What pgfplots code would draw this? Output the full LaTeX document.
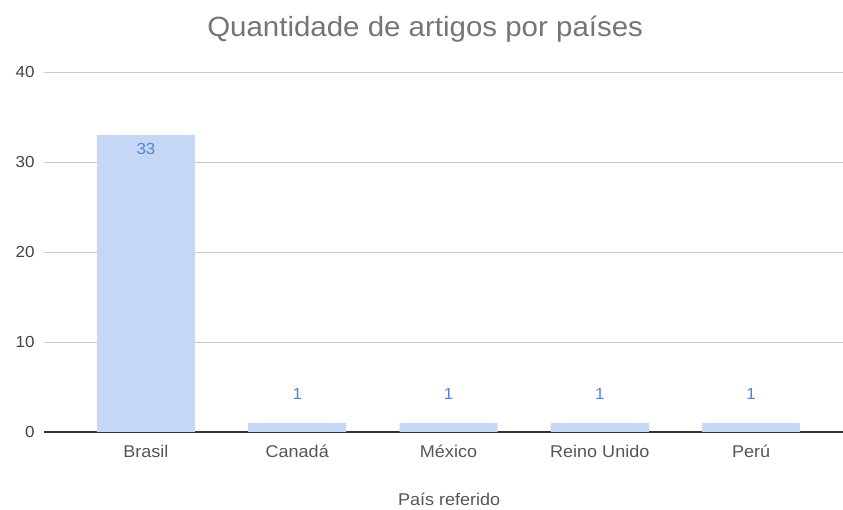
\documentclass[border=0pt]{standalone}
\usepackage{pgfplots}
\pgfplotsset{compat=1.18}
\usepackage{pgfplotstable}
\usepackage{fontspec}
\setmainfont{Liberation Sans}[FakeStretch=1.06]
\definecolor{barfill}{HTML}{C6D7F6}
\definecolor{lblblue}{HTML}{4E86D8}
\definecolor{titlegray}{HTML}{757575}
\definecolor{tickgray}{HTML}{444444}
\definecolor{xgray}{HTML}{555555}
\definecolor{gridgray}{HTML}{CCCCCC}
\definecolor{axisdark}{HTML}{333333}
\pgfplotstableread{
x y
0 33
1 1
2 1
3 1
4 1
}\bars
\pgfplotstableread{
x y lab
0 31.45 33
1 4.2 1
2 4.2 1
3 4.2 1
4 4.2 1
}\labels
\begin{document}
\begin{tikzpicture}[x=1bp,y=1bp]
\path[use as bounding box] (0,0) rectangle (843,510);
\begin{axis}[
  at={(44bp,78bp)}, anchor=south west,
  scale only axis, width=799bp, height=360bp,
  xmin=-0.674, xmax=4.608, ymin=0, ymax=40,
  ytick={0,10,20,30,40},
  xtick={0,1,2,3,4},
  xticklabels={Brasil,Canadá,México,Reino Unido,Perú},
  axis lines*=left,
  y axis line style={draw=none},
  x axis line style={draw=axisdark, line width=1.3bp},
  major tick length=0pt,
  ymajorgrids, grid style={gridgray, line width=0.8bp},
  yticklabel style={font=\fontsize{16bp}{19bp}\selectfont, text=tickgray, xshift=-6bp},
  xticklabel style={font=\fontsize{17bp}{20bp}\selectfont, text=xgray, text height=12.5bp, text depth=4bp, yshift=-9bp},
  /pgf/number format/assume math mode=true,
  title={Quantidade de artigos por países},
  title style={font=\fontsize{27.8bp}{32bp}\selectfont, text=titlegray, at={(axis description cs:0.477,1)}, anchor=base, yshift=30bp},
  xlabel={País referido},
  xlabel style={font=\fontsize{17bp}{20bp}\selectfont, text=xgray, at={(axis description cs:0.507,0)}, anchor=base, yshift=-74bp},
  clip=false,
]
\addplot[ybar, bar width=98bp, bar shift=0pt, fill=barfill, draw=none] table[x=x, y=y]{\bars};
\addplot[draw=none, mark=none, nodes near coords, point meta=explicit symbolic,
  every node near coord/.append style={anchor=center, font=\fontsize{16bp}{19bp}\selectfont, text=lblblue}]
  table[x=x, y=y, meta=lab]{\labels};
\end{axis}
\end{tikzpicture}
\end{document}
